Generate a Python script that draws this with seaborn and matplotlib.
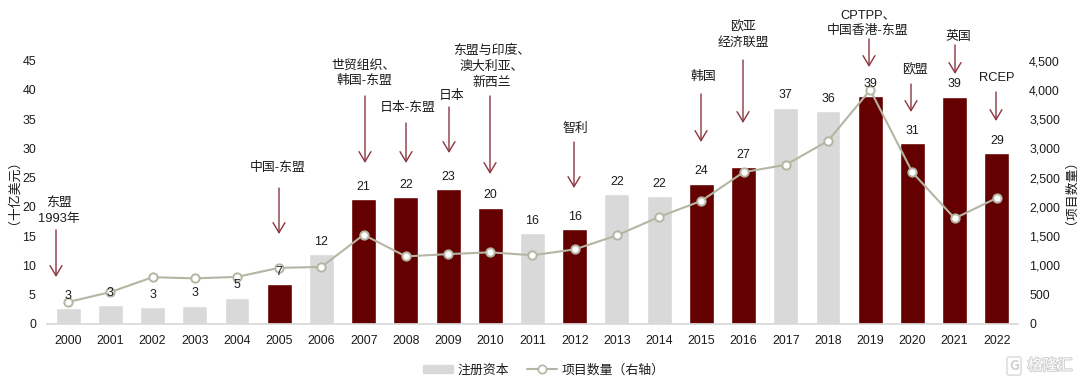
# -*- coding: utf-8 -*-
import matplotlib
matplotlib.use("Agg")
import matplotlib.pyplot as plt
import matplotlib.patheffects as pe
from matplotlib.lines import Line2D
from matplotlib.patches import Patch
import pandas as pd
import seaborn as sns

# --------------------------- DATA ---------------------------
years = [str(y) for y in range(2000, 2023)]
capital = [2.7, 3.2, 2.9, 3.1, 4.5, 6.8, 11.9, 21.3, 21.7, 23.0, 19.9, 15.5,
           16.2, 22.2, 21.8, 24.0, 26.8, 37.0, 36.4, 38.9, 30.9, 38.8, 29.2]
capital_labels = ['3', '3', '3', '3', '5', '7', '12', '21', '22', '23', '20', '16',
                  '16', '22', '22', '24', '27', '37', '36', '39', '31', '39', '29']
projects = [375, 545, 800, 780, 805, 960, 975, 1525, 1155, 1195, 1225, 1175,
            1275, 1515, 1830, 2105, 2595, 2720, 3130, 4000, 2590, 1805, 2155]
fta_years = ['2005', '2007', '2008', '2009', '2010', '2012', '2015', '2016',
             '2019', '2020', '2021', '2022']
left_ticks = [0, 5, 10, 15, 20, 25, 30, 35, 40, 45]
right_ticks = [0, 500, 1000, 1500, 2000, 2500, 3000, 3500, 4000, 4500]

# note text, text centre x/y in pixels, arrow x, arrow top, arrow tip
notes = [
    ('东盟\n1993年', 59, 211, 56, 230, 277),
    ('中国-东盟', 278, 168, 279, 188, 234),
    ('世贸组织、\n韩国-东盟', 364, 73, 365, 96, 163),
    ('日本-东盟', 408, 108, 406, 123, 163),
    ('日本', 452, 96, 449, 107, 153),
    ('东盟与印度、\n澳大利亚、\n新西兰', 492, 67, 490, 96, 174),
    ('智利', 575, 129, 574, 142, 188),
    ('韩国', 703, 77, 701, 94, 142),
    ('欧亚\n经济联盟', 743, 35, 743, 60, 123),
    ('CPTPP、\n中国香港-东盟', 868, 23, 869, 39, 67),
    ('欧盟', 915, 70, 911, 84, 112),
    ('英国', 958, 37, 955, 45, 74),
    ('RCEP', 997, 78, 996, 92, 121),
]

# --------------------------- STYLE ---------------------------
W, H = 1080, 383
DARK_RED = '#640000'
GREY = '#D9D9D9'
LINE_C = '#B5B5A3'
ARROW_C = '#8C3540'
TEXT_C = '#1C1C1C'
FS = 8.9
FS_CJK = 9.3

sns.set_theme(style='white')
plt.rcParams['font.family'] = ['Noto Sans CJK SC', 'DejaVu Sans']
plt.rcParams['text.color'] = TEXT_C
LATIN = ['Liberation Sans', 'Noto Sans CJK SC', 'DejaVu Sans']

df = pd.DataFrame({'year': years, 'capital': capital, 'projects': projects})
df['kind'] = ['fta' if y in fta_years else 'none' for y in years]


def px(x, y):
    return x / W, 1 - y / H


fig = plt.figure(figsize=(W / 100, H / 100), dpi=100)
ax = fig.add_axes([47 / W, 1 - 324 / H, (1018 - 47) / W, (324 - 60.7) / H])

# --------------------------- BARS ---------------------------
sns.barplot(data=df, x='year', y='capital', hue='kind', dodge=False, width=0.59,
            saturation=1, palette={'fta': DARK_RED, 'none': GREY}, legend=False, ax=ax)
ax.set_xlim(-0.5, len(years) - 0.5)
ax.set_ylim(0, 45)
ax.set_yticks(left_ticks)
ax.set_xlabel('')
ax.set_ylabel('')
ax.tick_params(axis='y', length=0, pad=8, labelsize=FS, labelcolor=TEXT_C, labelfontfamily=LATIN)
ax.tick_params(axis='x', length=0, pad=7.6, labelsize=FS, labelcolor=TEXT_C, labelfontfamily=LATIN)
sns.despine(ax=ax, left=True, right=True, top=True)
ax.spines['bottom'].set_color(GREY)

# --------------------------- LINE ---------------------------
ax2 = ax.twinx()
sns.lineplot(data=df, x='year', y='projects', color=LINE_C, linewidth=1.5, marker='o',
             markersize=6, markerfacecolor='white', markeredgecolor=LINE_C,
             markeredgewidth=1.4, errorbar=None, ax=ax2)
ax2.set_ylim(0, 4500)
ax2.set_yticks(right_ticks)
ax2.set_yticklabels([f'{t:,}' for t in right_ticks])
ax2.set_xlabel('')
ax2.set_ylabel('')
ax2.tick_params(axis='y', length=0, pad=8, labelsize=FS, labelcolor=TEXT_C, labelfontfamily=LATIN)
sns.despine(ax=ax2, left=True, right=True, top=True, bottom=True)

# value labels sit over the line, so they go on the second axis
for i, lab in enumerate(capital_labels):
    ax2.annotate(lab, (i, capital[i] * 100), xytext=(0, 9), textcoords='offset points',
                 ha='center', va='center', fontsize=FS, zorder=6, family=LATIN)

# --------------------------- NOTES ---------------------------
for text, tx, ty, ax_x, top, tip in notes:
    fig.text(*px(tx, ty), text, ha='center', va='center', fontsize=FS_CJK, linespacing=1.4,
             family=LATIN)
    ax2.annotate('', xy=px(ax_x, tip), xytext=px(ax_x, top),
                 xycoords='figure fraction', textcoords='figure fraction',
                 arrowprops=dict(arrowstyle='->,head_length=0.72,head_width=0.43',
                                 mutation_scale=10, color=ARROW_C, lw=1,
                                 shrinkA=0, shrinkB=0))

# --------------------------- AXIS TITLES ---------------------------
# rotated CJK text lands a few pixels right of and below its anchor
for title, tx in [('（十亿美元）', 7), ('（项目数量）', 1064)]:
    fig.text(*px(tx, 185), title, rotation=90, ha='center', va='center', fontsize=FS_CJK)

# --------------------------- LEGEND ---------------------------
bar_handle = Patch(color=GREY, label='注册资本')
line_handle = Line2D([], [], color=LINE_C, lw=1.5, marker='o', markersize=6,
                     markerfacecolor='white', markeredgecolor=LINE_C,
                     markeredgewidth=1.2, label='项目数量（右轴）')
leg1 = fig.legend(handles=[bar_handle], loc='center left', bbox_to_anchor=px(423, 370),
                  frameon=False, fontsize=FS_CJK, handlelength=2.3, handleheight=0.55,
                  handletextpad=0.4, borderpad=0, borderaxespad=0)
leg2 = fig.legend(handles=[line_handle], loc='center left', bbox_to_anchor=px(527, 370),
                  frameon=False, fontsize=FS_CJK, handlelength=2.3,
                  handletextpad=0.35, borderpad=0, borderaxespad=0)

# --------------------------- WATERMARK ---------------------------
fig.text(*px(1014, 366), 'G', ha='center', va='center', fontsize=10, color='#D0D0D0',
         fontweight='bold',
         bbox=dict(boxstyle='round,pad=0.15', facecolor='white', edgecolor='#D8D8D8', lw=1))
fig.text(*px(1050, 366), '格隆汇', ha='center', va='center', fontsize=10.8, color='white',
         path_effects=[pe.withStroke(linewidth=1.5, foreground='#CFCFCF')])

fig.savefig('out.png', dpi=100)
plt.close()
